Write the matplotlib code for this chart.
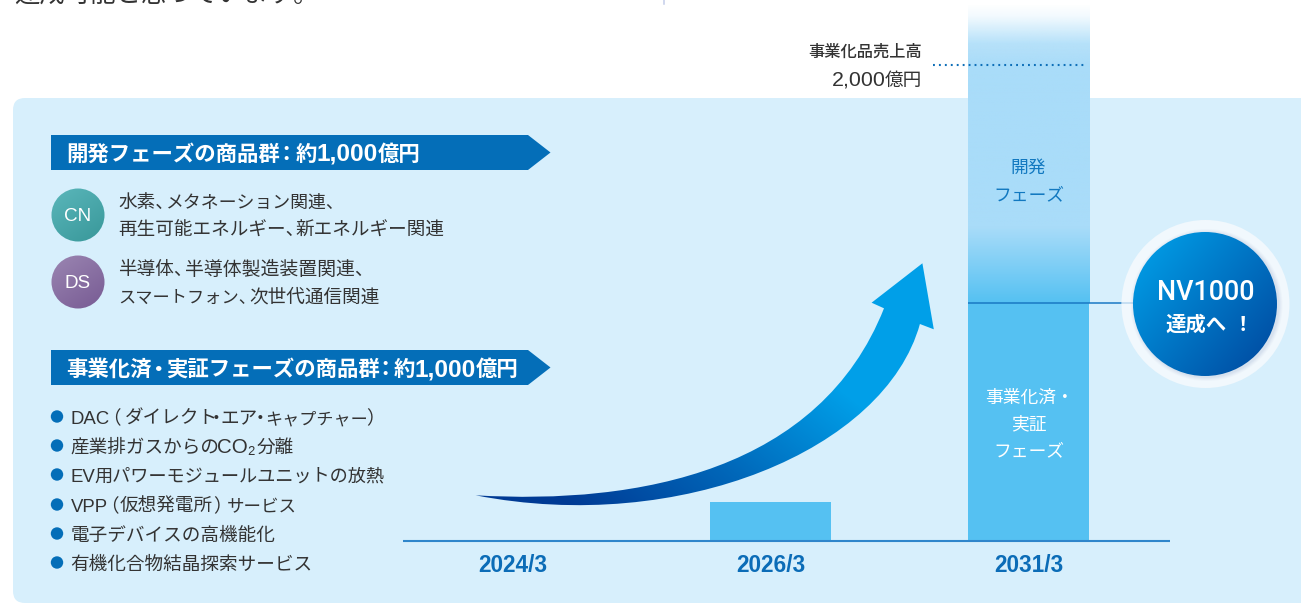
import numpy as np
import matplotlib
matplotlib.use("Agg")
import matplotlib.pyplot as plt
from matplotlib.colors import LinearSegmentedColormap, to_rgb
from matplotlib.patches import Circle, FancyBboxPatch, PathPatch, Polygon
from matplotlib.path import Path

W, H = 1301, 603
FONT = ["Liberation Sans", "Noto Sans CJK JP"]
plt.rcParams["font.family"] = FONT

BODY = 13.4

# chart values (oku yen)
years = ["2024/3", "2026/3", "2031/3"]
commercial = [0, 165, 1000]
development = [0, 0, 1000]
target = 2000

# text runs are (x, string, size) so kana and punctuation sit tight
dev_badges = [(215, "CN", "#5bb7bb", "#389799"), (282, "DS", "#9b86b2", "#775a93")]
dev_lines = [
    (207.5, [(118, "水素、", BODY), (166, "メタネーション関連、", 12.9)]),
    (235.5, [(118, "再生可能エネルギー、", BODY), (295, "新エネルギー関連", BODY)]),
    (274.5, [(118, "半導体、", BODY), (185.5, "半導体製造装置関連、", 13.6)]),
    (302.5, [(118, "スマートフォン、", 12.4), (249, "次世代通信関連", BODY)]),
]
bullets = [
    [(71, "DAC", BODY), (102, "（", BODY), (125, "ダイレクト", BODY), (207, "・", BODY), (220, "エア", BODY),
     (251, "・", BODY), (265, "キャプチャー", 12.3), (366, "）", BODY)],
    [(70.5, "産業排ガスからの", BODY), (217, "CO₂", 14.8), (257, "分離", BODY)],
    [(71, "EV", BODY), (94, "用パワーモジュールユニットの放熱", 13.1)],
    [(71, "VPP", BODY), (100, "（", BODY), (120, "仮想発電所", BODY), (213, "）", BODY), (227, "サービス", 12.6)],
    [(70.5, "電子デバイスの高機能化", BODY)],
    [(70.5, "有機化合物結晶探索サービス", BODY)],
]
bullet_y = [417, 446, 475, 505, 534, 563]

BLUE = "#046eb8"
BAR = "#55c1f2"
INK = "#333333"
PANEL = "#d7effc"

fig = plt.figure(figsize=(W / 100, H / 100), dpi=100, facecolor="white")


def pixel_axes(zorder):
    a = fig.add_axes([0, 0, 1, 1], zorder=zorder)
    a.set_xlim(0, W)
    a.set_ylim(H, 0)
    a.axis("off")
    a.patch.set_alpha(0)
    return a


def gradient(a, box, c0, c1, patch, angle=90.0, zorder=2):
    # linear two colour fill over box, clipped to patch
    x0, x1, y0, y1 = box
    xx, yy = np.meshgrid(np.linspace(0, 1, 300), np.linspace(0, 1, 300))
    t = np.deg2rad(angle)
    v = xx * np.cos(t) + yy * np.sin(t)
    v = (v - v.min()) / (v.max() - v.min())
    cmap = LinearSegmentedColormap.from_list("g", [c0, c1])
    im = a.imshow(v, extent=(x0, x1, y1, y0), origin="upper", cmap=cmap, aspect="auto", zorder=zorder)
    a.add_patch(patch)
    patch.set_facecolor("none")
    patch.set_edgecolor("none")
    im.set_clip_path(patch)
    a.set_xlim(0, W)
    a.set_ylim(H, 0)
    return im


bg = pixel_axes(0)
bg.add_patch(FancyBboxPatch((13 + 12, 98 + 12), W + 60, 505 - 24, boxstyle="round,pad=12,rounding_size=12", fc=PANEL, ec="none"))

# bars share a category axis whose bottom spine is the baseline
ax = fig.add_axes([403 / W, (H - 541) / H, (1170 - 403) / W, 541 / H], zorder=1)
ax.patch.set_alpha(0)
slot = 258.0
ax.set_xlim((403 - 512.5) / slot, (1170 - 512.5) / slot)
ax.set_ylim(0, 541 / 476 * target)
for s in ["top", "left", "right"]:
    ax.spines[s].set_visible(False)
ax.spines["bottom"].set_color("#2f86cb")
ax.spines["bottom"].set_linewidth(1.5)
ax.spines["bottom"].set_capstyle("butt")
x = np.arange(len(years))
bar_w = 121 / slot
ax.bar(x, commercial, width=bar_w, color=BAR, zorder=2)
ax.set_xticks(x, years)
ax.set_yticks([])
ax.tick_params(axis="x", length=0, pad=9, labelsize=16.3, labelcolor="#0b6cb7")
for lab in ax.get_xticklabels():
    lab.set_fontweight("bold")

# development phase: fades up from the bar colour, then out past the target
left, right = x[2] - bar_w / 2, x[2] + bar_w / 2
base = commercial[2]
top = base + development[2]
stops = np.array([0, 0.32, 1.0])
colors = [to_rgb(BAR), to_rgb("#a9dcf9"), to_rgb("#a9dcf9")]
ys = np.linspace(0, 1, 256)
col = np.array([np.interp(ys, stops, [c[i] for c in colors]) for i in range(3)]).T
ax.imshow(col[:, None, :], extent=(left, right, base, top), origin="lower", aspect="auto", zorder=2)
fade = np.zeros((128, 1, 4))
fade[:, :, :3] = to_rgb("#a9dcf9")
fade[:, 0, 3] = np.interp(np.linspace(0, 1, 128), [0, 0.35, 0.8, 1], [1, 0.85, 0.15, 0])
ax.imshow(fade, extent=(left, right, top, top * 1.128), origin="lower", aspect="auto", zorder=2)
ax.set_xlim((403 - 512.5) / slot, (1170 - 512.5) / slot)
ax.set_ylim(0, 541 / 476 * target)
ax.plot([left, right + 0.42], [base, base], color="#1a79c4", lw=1.1, zorder=3, solid_capstyle="butt")
ax.plot([(933 - 512.5) / slot, (1085 - 512.5) / slot], [target, target], color="#0e6fb8", lw=1.5,
        linestyle=(0, (0.9, 1.95)), zorder=3)

fg = pixel_axes(2)

# curved growth arrow
arrow_verts = [
    (475.6, 495.3), (640, 505), (820, 470), (884, 308.3),
    (871.6, 302.7), (922.4, 263.3), (933.8, 329.3), (919.9, 324),
    (885, 450), (680, 535), (475.6, 495.3),
]
arrow_codes = [Path.MOVETO, Path.CURVE4, Path.CURVE4, Path.CURVE4, Path.LINETO, Path.LINETO, Path.LINETO, Path.LINETO,
               Path.CURVE4, Path.CURVE4, Path.CURVE4]
arrow = PathPatch(Path(arrow_verts, arrow_codes), fc="none", ec="none")
gx, gy = np.meshgrid(np.linspace(470, 940, 470), np.linspace(260, 510, 250))
# shade runs from the tail up towards the head
v = ((gx - 560) * 0.62 + (500 - gy) * 0.78) / 260
arrow_cmap = LinearSegmentedColormap.from_list("arrow", ["#003a94", "#0068ba", "#009fe8"])
im = fg.imshow(np.clip(v, 0, 1), extent=(470, 940, 510, 260), cmap=arrow_cmap, aspect="auto", zorder=2, origin="upper", vmin=0, vmax=1)
fg.add_patch(arrow)
im.set_clip_path(arrow)


def run(px, py, s, size=BODY, color=INK, **kw):
    kw.setdefault("ha", "left")
    return fg.text(px, py, s, color=color, fontsize=size, va="baseline", zorder=kw.pop("zorder", 4), **kw)


def banner(y0, y1, parts):
    fg.add_patch(Polygon([(51, y0), (528, y0), (550.5, (y0 + y1) / 2), (528, y1), (51, y1)], fc=BLUE, ec="none", zorder=3))
    for px, s, size, ha in parts:
        run(px, y1 - 9, s, size=size, color="white", fontweight="bold", ha=ha)


HEAD = 15.4
DIGITS = 17.6
banner(135, 170, [(66, "開発フェーズの商品群", HEAD, "left"), (286, "：", HEAD, "center"), (296, "約", HEAD, "left"),
                  (317, "1,000", DIGITS, "left"), (377.5, "億円", HEAD, "left")])
banner(350, 385, [(66, "事業化済", HEAD, "left"), (159, "・", HEAD, "center"), (166, "実証フェーズの商品群", HEAD, "left"),
                  (385, "：", HEAD, "center"), (393.5, "約", HEAD, "left"), (415, "1,000", DIGITS, "left"), (475.5, "億円", HEAD, "left")])

for cy, tag, c0, c1 in dev_badges:
    gradient(fg, (51, 105, cy - 27, cy + 27), c0, c1, Circle((78, cy), 26.5), angle=55, zorder=3)
    fg.text(78, cy + 1.5, tag, color="white", fontsize=13.6, ha="center", va="center", zorder=4)
for ly, parts in dev_lines:
    for px, s, size in parts:
        run(px, ly, s, size=size)

for ly, parts in zip(bullet_y, bullets):
    fg.add_patch(Circle((57, ly - 0.5), 6.2, fc=BLUE, ec="none", zorder=3))
    for px, s, size in parts:
        run(px, ly + 7, s, size=size)

# target annotation
run(922, 56.5, "事業化品売上高", size=11.7, fontweight="medium", ha="right")
run(832, 86, "2,000", size=15.4)
run(885, 86, "億円")

# labels inside the tall bar
for ly, s, c in [(173, "開発", "#1178c0"), (200, "フェーズ", "#1178c0"),
                 (429, "実証", "white"), (456, "フェーズ", "white")]:
    run(1028.5, ly, s, size=12.8, color=c, ha="center")
run(985.5, 403, "事業化済", size=12.8, color="white")
run(1065, 403, "・", size=12.8, color="white", ha="center")

# NV1000 badge
fg.add_patch(Circle((1205.5, 304), 84, fc="#f1f8fd", ec="none", zorder=5))
for r, a in [(76, 0.05), (75, 0.06), (74, 0.08), (73, 0.1)]:
    fg.add_patch(Circle((1206.5, 305), r, fc="#8fa9c9", ec="none", alpha=a, zorder=5))
fg.plot([1122, 1134], [302.5, 302.5], color="#1a79c4", lw=1.1, alpha=0.25, zorder=5, solid_capstyle="butt")
gradient(fg, (1133, 1277, 232, 376), "#00a4ec", "#00459c", Circle((1205, 304), 72), angle=40, zorder=6)
run(1205.5, 300, "NV1000", size=19.4, color="white", fontweight=500, family="Roboto", ha="center", zorder=7)
run(1165, 331, "達成へ", size=14.7, color="white", fontweight="bold", zorder=7)
run(1243, 331, "！", size=14.7, color="white", fontweight="bold", ha="center", zorder=7)

# tail of the paragraph above, cut by the top edge
run(14, 2, "達成可能と思っています。", size=18.3)
fg.plot([663.5, 663.5], [0, 4], color="#c3cdea", lw=1.1)

fig.savefig("out.png", dpi=100)
